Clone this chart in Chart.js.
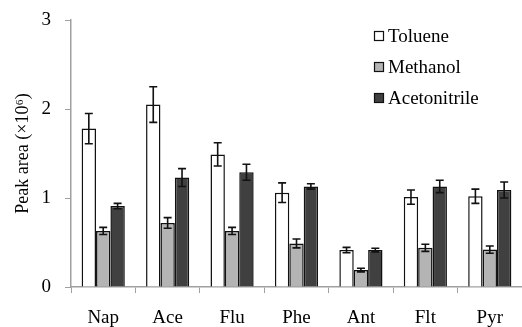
<!DOCTYPE html>
<html>
<head>
<meta charset="utf-8">
<script src="https://cdn.jsdelivr.net/npm/chart.js@4"></script>
<style>
  html, body { margin: 0; padding: 0; background: #fff; }
  #wrap { width: 522px; height: 327px; }
</style>
</head>
<body>
<div id="wrap"><canvas id="chart"></canvas></div>
<script>
const categories = ['Nap', 'Ace', 'Flu', 'Phe', 'Ant', 'Flt', 'Pyr'];
const seriesNames = ['Toluene', 'Methanol', 'Acetonitrile'];
const toluene = [1.78, 2.05, 1.49, 1.06, 0.415, 1.01, 1.02];
const methanol = [0.63, 0.72, 0.63, 0.49, 0.19, 0.44, 0.42];
const acetonitrile = [0.91, 1.23, 1.29, 1.13, 0.415, 1.13, 1.09];
const tolueneErr = [0.17, 0.2, 0.13, 0.11, 0.03, 0.08, 0.08];
const methanolErr = [0.04, 0.06, 0.04, 0.05, 0.02, 0.04, 0.04];
const acetonitrileErr = [0.03, 0.1, 0.09, 0.03, 0.02, 0.07, 0.09];
const yTicks = [0, 1, 2, 3];

const colors = ['#ffffff', '#b4b4b4', '#404040'];
const values = [toluene, methanol, acetonitrile];
const errors = [tolueneErr, methanolErr, acetonitrileErr];
const serif = "'Liberation Serif', 'DejaVu Serif', serif";

// error bars drawn on top of every bar
const errorBars = {
    id: 'errorBars',
    afterDatasetsDraw(chart) {
        const ctx = chart.ctx;
        const y = chart.scales.y;
        ctx.save();
        ctx.strokeStyle = '#111';
        ctx.lineWidth = 1.6;
        chart.data.datasets.forEach((ds, i) => {
            chart.getDatasetMeta(i).data.forEach((bar, j) => {
                const v = ds.data[j], e = errors[i][j];
                const top = y.getPixelForValue(v + e);
                const bot = y.getPixelForValue(v - e);
                ctx.beginPath();
                ctx.moveTo(bar.x, top); ctx.lineTo(bar.x, bot);
                ctx.moveTo(bar.x - 4, top); ctx.lineTo(bar.x + 4, top);
                ctx.moveTo(bar.x - 4, bot); ctx.lineTo(bar.x + 4, bot);
                ctx.stroke();
            });
        });
        ctx.restore();
    }
};

// legend inside the plot, top right
const boxLegend = {
    id: 'boxLegend',
    afterDraw(chart) {
        const ctx = chart.ctx;
        ctx.save();
        ctx.font = '19px ' + serif;
        ctx.textBaseline = 'middle';
        seriesNames.forEach((name, i) => {
            const cy = 36 + i * 31;
            ctx.fillStyle = colors[i];
            ctx.fillRect(374, cy - 5, 10, 10);
            ctx.strokeStyle = '#111';
            ctx.lineWidth = 1.2;
            ctx.strokeRect(374.5, cy - 4.5, 9, 9);
            ctx.fillStyle = '#000';
            ctx.fillText(name, 388, cy + 1);
        });
        ctx.restore();
    }
};

new Chart(document.getElementById('chart'), {
    type: 'bar',
    data: {
        labels: categories,
        datasets: seriesNames.map((name, i) => ({
            label: name,
            data: values[i],
            backgroundColor: colors[i],
            borderColor: '#111',
            borderWidth: 1.5,
            barPercentage: 1,
            categoryPercentage: 0.67
        }))
    },
    options: {
        responsive: true,
        maintainAspectRatio: false,
        animation: false,
        layout: { padding: { top: 20, right: 0, left: 0, bottom: 0 } },
        plugins: { legend: { display: false }, tooltip: { enabled: false } },
        scales: {
            x: {
                grid: { display: true, drawOnChartArea: false, offset: true, tickLength: 6, color: '#a0a0a0' },
                border: { color: '#a0a0a0', width: 1.5 },
                ticks: { color: '#000', font: { family: serif, size: 19 }, padding: 14 },
                afterFit(scale) { scale.height = 40; scale.paddingLeft = 0; scale.paddingRight = 0; }
            },
            y: {
                min: 0,
                max: 3,
                grid: { display: true, drawOnChartArea: false, tickLength: 6, color: '#a0a0a0' },
                border: { color: '#a0a0a0', width: 1.5 },
                afterBuildTicks(scale) { scale.ticks = yTicks.map(v => ({ value: v })); },
                ticks: { color: '#000', font: { family: serif, size: 19 }, padding: 14 },
                title: { display: true, text: 'Peak area (×10⁶)', color: '#000', font: { family: serif, size: 18 }, padding: { top: 12, bottom: 0 } },
                afterFit(scale) { scale.width = 71; scale.paddingTop = 0; scale.paddingBottom = 0; }
            }
        }
    },
    plugins: [errorBars, boxLegend]
});
</script>
</body>
</html>
